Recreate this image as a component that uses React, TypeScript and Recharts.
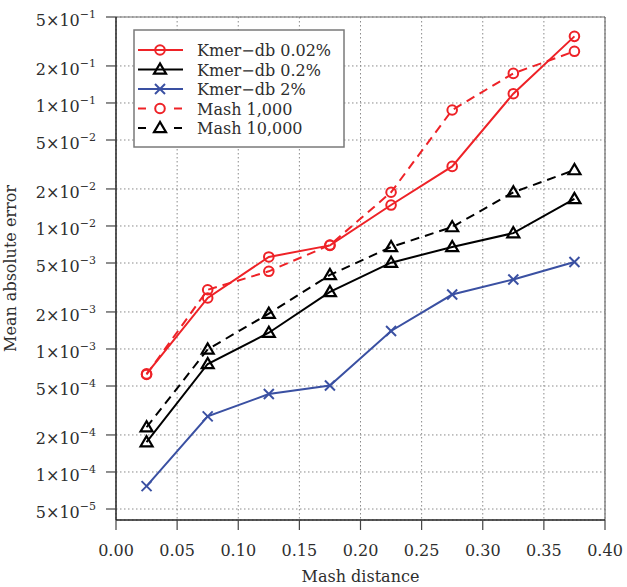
import React from 'react';
import {
  LineChart, Line, XAxis, YAxis, CartesianGrid, ReferenceLine,
} from 'recharts';

// Mash distance bins
const distances = [0.025, 0.075, 0.125, 0.175, 0.225, 0.275, 0.325, 0.375];

// Mean absolute error per series
const kmerDb002 = [6.27e-4, 2.6e-3, 5.6e-3, 6.95e-3, 0.0148, 0.0305, 0.119, 0.348];
const kmerDb02 = [1.75e-4, 7.55e-4, 1.355e-3, 2.91e-3, 5.03e-3, 6.75e-3, 8.75e-3, 0.0166];
const kmerDb2 = [7.67e-5, 2.83e-4, 4.3e-4, 5.05e-4, 1.4e-3, 2.77e-3, 3.67e-3, 5.1e-3];
const mash1000 = [6.2e-4, 3.03e-3, 4.28e-3, 7.0e-3, 0.0188, 0.0877, 0.174, 0.263];
const mash10000 = [2.31e-4, 9.93e-4, 1.94e-3, 4.0e-3, 6.75e-3, 9.8e-3, 0.0188, 0.0285];

const xTicks = [0, 0.05, 0.1, 0.15, 0.2, 0.25, 0.3, 0.35, 0.4];
const yTicks = [5e-5, 1e-4, 2e-4, 5e-4, 1e-3, 2e-3, 5e-3, 1e-2, 2e-2, 5e-2, 1e-1, 2e-1, 5e-1];

const FONT = '"DejaVu Serif", serif';
const TEXT = '#2e2e2e';
const RED = '#ee2227';
const BLUE = '#3a50a2';
const BLACK = '#000000';
const DASH = '9 6';

const data = distances.map((d, i) => ({
  x: d,
  k002: kmerDb002[i],
  k02: kmerDb02[i],
  k2: kmerDb2[i],
  m1000: mash1000[i],
  m10000: mash10000[i],
}));

type Marker = 'circle' | 'triangle' | 'cross';

const MarkerShape = ({ kind, cx, cy, color }: { kind: Marker; cx: number; cy: number; color: string }) => {
  if (kind === 'circle') {
    return <circle cx={cx} cy={cy} r={4.8} fill="none" stroke={color} strokeWidth={2} />;
  }
  if (kind === 'triangle') {
    const h = 6;
    return (
      <polygon
        points={`${cx},${cy - h} ${cx - h},${cy + h * 0.7} ${cx + h},${cy + h * 0.7}`}
        fill="none"
        stroke={color}
        strokeWidth={2.2}
      />
    );
  }
  const s = 5;
  return (
    <g stroke={color} strokeWidth={2}>
      <line x1={cx - s} y1={cy - s} x2={cx + s} y2={cy + s} />
      <line x1={cx - s} y1={cy + s} x2={cx + s} y2={cy - s} />
    </g>
  );
};

const makeDot = (kind: Marker, color: string) => (props: any) => {
  const { cx, cy, index } = props;
  if (cx == null || cy == null) return <g key={index} />;
  return <MarkerShape key={index} kind={kind} cx={cx} cy={cy} color={color} />;
};

const series = [
  { key: 'k002', name: 'Kmer−db 0.02%', color: RED, marker: 'circle' as Marker, dashed: false },
  { key: 'k02', name: 'Kmer−db 0.2%', color: BLACK, marker: 'triangle' as Marker, dashed: false },
  { key: 'k2', name: 'Kmer−db 2%', color: BLUE, marker: 'cross' as Marker, dashed: false },
  { key: 'm1000', name: 'Mash 1,000', color: RED, marker: 'circle' as Marker, dashed: true },
  { key: 'm10000', name: 'Mash 10,000', color: BLACK, marker: 'triangle' as Marker, dashed: true },
];

const XTick = ({ x, y, payload }: any) => (
  <text x={x} y={y + 24} textAnchor="middle" fontFamily={FONT} fontSize={16} fill={TEXT}>
    {payload.value.toFixed(2)}
  </text>
);

const YTick = ({ x, y, payload }: any) => {
  const v = payload.value;
  const exp = Math.floor(Math.log10(v) + 1e-9);
  const mant = Math.round(v / Math.pow(10, exp));
  return (
    <text x={x - 10} y={y + 9} textAnchor="end" fontFamily={FONT} fontSize={16} fill={TEXT}>
      {`${mant}×10`}
      <tspan fontSize={11} dy={-8}>{`−${Math.abs(exp)}`}</tspan>
    </text>
  );
};

// legend drawn as an overlay in the top-left of the plot
const LegendBox = () => (
  <svg width={212} height={119} style={{ position: 'absolute', left: 133, top: 29 }}>
    <rect x={1} y={1} width={210} height={117} fill="#fff" stroke="#7a7a7a" strokeWidth={1.5} />
    {series.map((s, i) => {
      const cy = 21 + i * 19.5;
      return (
        <g key={s.key}>
          {s.dashed ? (
            <g stroke={s.color} strokeWidth={2}>
              <line x1={5} y1={cy} x2={13} y2={cy} />
              <line x1={41} y1={cy} x2={49} y2={cy} />
            </g>
          ) : (
            <line x1={5} y1={cy} x2={50} y2={cy} stroke={s.color} strokeWidth={2} />
          )}
          <MarkerShape kind={s.marker} cx={27} cy={cy} color={s.color} />
          <text x={64} y={cy + 6} fontFamily={FONT} fontSize={16} fill={TEXT}>{s.name}</text>
        </g>
      );
    })}
  </svg>
);

export default function App() {
  return (
    <div style={{ position: 'absolute', left: 0, top: 0, width: 627, height: 587, background: '#fff' }}>
      <LineChart
        width={627}
        height={587}
        data={data}
        margin={{ top: 17, right: 22, bottom: 0, left: 0 }}
      >
        <CartesianGrid stroke="#8a8a8a" strokeDasharray="1.5 2.5" strokeWidth={1} />
        <XAxis
          dataKey="x"
          type="number"
          domain={[0, 0.4]}
          ticks={xTicks}
          height={67}
          tickSize={10}
          tickMargin={2}
          axisLine={{ stroke: '#222', strokeWidth: 1.5 }}
          tickLine={{ stroke: '#444', strokeWidth: 1.2 }}
          tick={<XTick />}
          label={{ value: 'Mash distance', position: 'insideBottom', offset: 5, fontFamily: FONT, fontSize: 16, fill: TEXT }}
        />
        <YAxis
          type="number"
          scale="log"
          domain={[4.07e-5, 0.5]}
          allowDataOverflow
          ticks={yTicks}
          width={116}
          tickSize={10}
          tickMargin={0}
          axisLine={{ stroke: '#222', strokeWidth: 1.5 }}
          tickLine={{ stroke: '#444', strokeWidth: 1.2 }}
          tick={<YTick />}
          label={{ value: 'Mean absolute error', angle: -90, position: 'insideLeft', offset: 10, fontFamily: FONT, fontSize: 16, fill: TEXT, style: { textAnchor: 'middle' } }}
        />
        <ReferenceLine y={0.5} stroke="#6e6e6e" strokeWidth={1.2} />
        <ReferenceLine x={0.4} stroke="#6e6e6e" strokeWidth={1.2} />
        {series.map((s) => (
          <Line
            key={s.key}
            dataKey={s.key}
            name={s.name}
            type="linear"
            stroke={s.color}
            strokeWidth={2}
            strokeDasharray={s.dashed ? DASH : undefined}
            dot={makeDot(s.marker, s.color)}
            activeDot={false}
            isAnimationActive={false}
          />
        ))}
      </LineChart>
      <LegendBox />
    </div>
  );
}
